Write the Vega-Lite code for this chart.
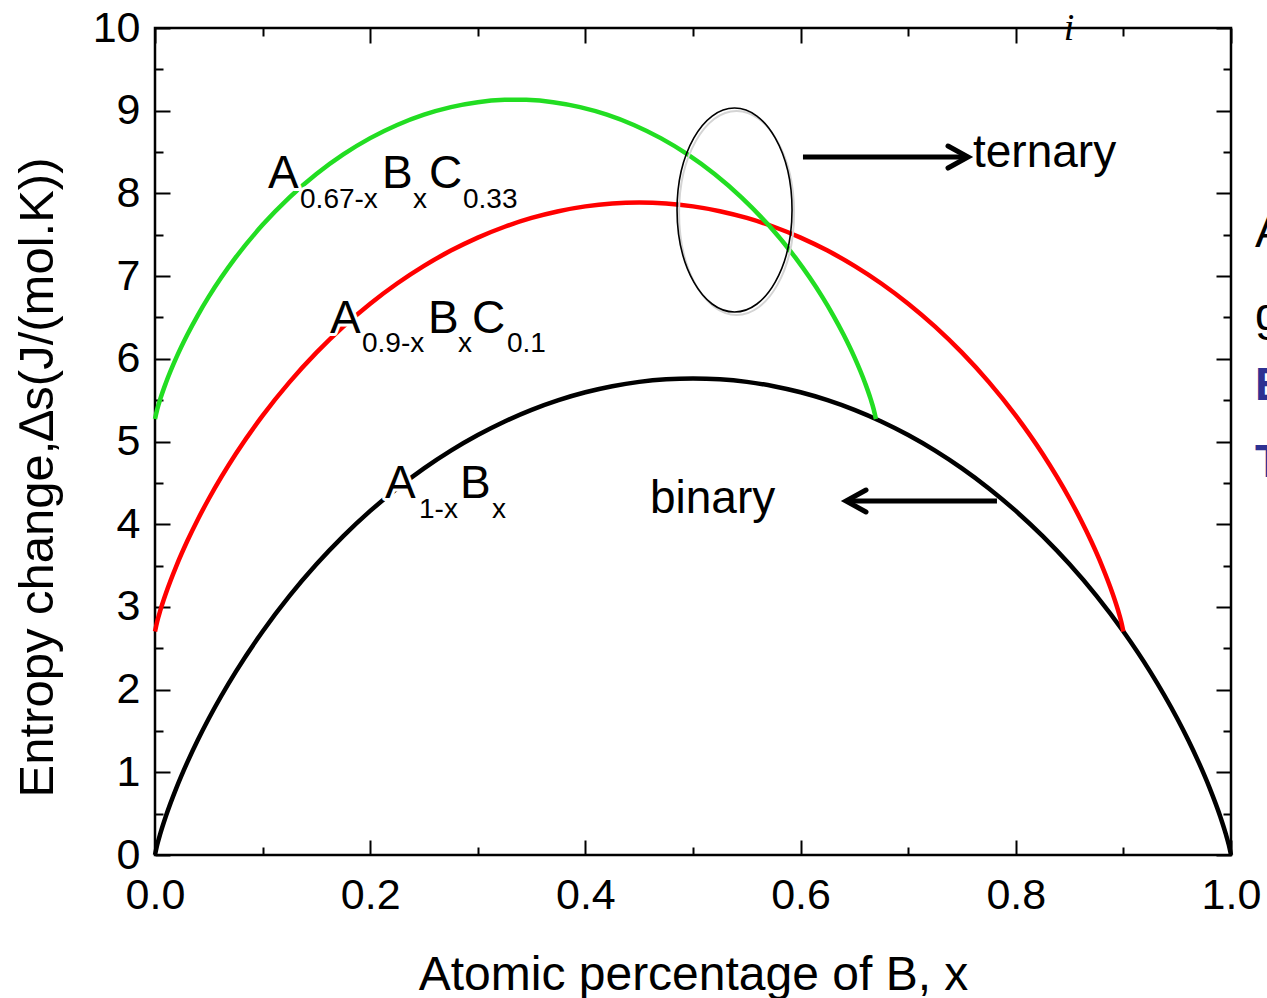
{
  "$schema": "https://vega.github.io/schema/vega-lite/v6.json",
  "width": 1076,
  "height": 827,
  "autosize": {"type": "none"},
  "padding": {"left": 155, "top": 28, "right": 36, "bottom": 143},
  "config": {
    "view": {"stroke": "#000", "strokeWidth": 2.5},
    "font": "Liberation Sans",
    "text": {"font": "Liberation Sans"}
  },
  "datasets": {
    "curves": [
      {"series": "A1-xBx", "x": 0, "s": 0},
      {"series": "A1-xBx", "x": 0.002, "s": 0.1199},
      {"series": "A1-xBx", "x": 0.005, "s": 0.2617},
      {"series": "A1-xBx", "x": 0.01, "s": 0.4656},
      {"series": "A1-xBx", "x": 0.02, "s": 0.8151},
      {"series": "A1-xBx", "x": 0.03, "s": 1.1202},
      {"series": "A1-xBx", "x": 0.04, "s": 1.3963},
      {"series": "A1-xBx", "x": 0.05, "s": 1.6505},
      {"series": "A1-xBx", "x": 0.075, "s": 2.2147},
      {"series": "A1-xBx", "x": 0.1, "s": 2.7027},
      {"series": "A1-xBx", "x": 0.125, "s": 3.1325},
      {"series": "A1-xBx", "x": 0.15, "s": 3.5144},
      {"series": "A1-xBx", "x": 0.175, "s": 3.8554},
      {"series": "A1-xBx", "x": 0.2, "s": 4.1604},
      {"series": "A1-xBx", "x": 0.225, "s": 4.4327},
      {"series": "A1-xBx", "x": 0.25, "s": 4.6753},
      {"series": "A1-xBx", "x": 0.275, "s": 4.89},
      {"series": "A1-xBx", "x": 0.3, "s": 5.0787},
      {"series": "A1-xBx", "x": 0.325, "s": 5.2427},
      {"series": "A1-xBx", "x": 0.35, "s": 5.3829},
      {"series": "A1-xBx", "x": 0.375, "s": 5.5002},
      {"series": "A1-xBx", "x": 0.4, "s": 5.5954},
      {"series": "A1-xBx", "x": 0.425, "s": 5.6689},
      {"series": "A1-xBx", "x": 0.45, "s": 5.7212},
      {"series": "A1-xBx", "x": 0.475, "s": 5.7524},
      {"series": "A1-xBx", "x": 0.5, "s": 5.7628},
      {"series": "A1-xBx", "x": 0.525, "s": 5.7524},
      {"series": "A1-xBx", "x": 0.55, "s": 5.7212},
      {"series": "A1-xBx", "x": 0.575, "s": 5.6689},
      {"series": "A1-xBx", "x": 0.6, "s": 5.5954},
      {"series": "A1-xBx", "x": 0.625, "s": 5.5002},
      {"series": "A1-xBx", "x": 0.65, "s": 5.3829},
      {"series": "A1-xBx", "x": 0.675, "s": 5.2427},
      {"series": "A1-xBx", "x": 0.7, "s": 5.0787},
      {"series": "A1-xBx", "x": 0.725, "s": 4.89},
      {"series": "A1-xBx", "x": 0.75, "s": 4.6753},
      {"series": "A1-xBx", "x": 0.775, "s": 4.4327},
      {"series": "A1-xBx", "x": 0.8, "s": 4.1604},
      {"series": "A1-xBx", "x": 0.825, "s": 3.8554},
      {"series": "A1-xBx", "x": 0.85, "s": 3.5144},
      {"series": "A1-xBx", "x": 0.875, "s": 3.1325},
      {"series": "A1-xBx", "x": 0.9, "s": 2.7027},
      {"series": "A1-xBx", "x": 0.925, "s": 2.2147},
      {"series": "A1-xBx", "x": 0.95, "s": 1.6505},
      {"series": "A1-xBx", "x": 0.96, "s": 1.3963},
      {"series": "A1-xBx", "x": 0.97, "s": 1.1202},
      {"series": "A1-xBx", "x": 0.98, "s": 0.8151},
      {"series": "A1-xBx", "x": 0.99, "s": 0.4656},
      {"series": "A1-xBx", "x": 0.995, "s": 0.2617},
      {"series": "A1-xBx", "x": 0.998, "s": 0.1199},
      {"series": "A1-xBx", "x": 1, "s": 0},
      {"series": "A0.9-xBxC0.1", "x": 0, "s": 2.7027},
      {"series": "A0.9-xBxC0.1", "x": 0.002, "s": 2.8209},
      {"series": "A0.9-xBxC0.1", "x": 0.005, "s": 2.9601},
      {"series": "A0.9-xBxC0.1", "x": 0.01, "s": 3.1595},
      {"series": "A0.9-xBxC0.1", "x": 0.02, "s": 3.5001},
      {"series": "A0.9-xBxC0.1", "x": 0.03, "s": 3.7963},
      {"series": "A0.9-xBxC0.1", "x": 0.04, "s": 4.0632},
      {"series": "A0.9-xBxC0.1", "x": 0.05, "s": 4.3082},
      {"series": "A0.9-xBxC0.1", "x": 0.075, "s": 4.849},
      {"series": "A0.9-xBxC0.1", "x": 0.1, "s": 5.3129},
      {"series": "A0.9-xBxC0.1", "x": 0.125, "s": 5.7178},
      {"series": "A0.9-xBxC0.1", "x": 0.15, "s": 6.0741},
      {"series": "A0.9-xBxC0.1", "x": 0.175, "s": 6.3887},
      {"series": "A0.9-xBxC0.1", "x": 0.2, "s": 6.6663},
      {"series": "A0.9-xBxC0.1", "x": 0.225, "s": 6.9105},
      {"series": "A0.9-xBxC0.1", "x": 0.25, "s": 7.1238},
      {"series": "A0.9-xBxC0.1", "x": 0.275, "s": 7.3083},
      {"series": "A0.9-xBxC0.1", "x": 0.3, "s": 7.4655},
      {"series": "A0.9-xBxC0.1", "x": 0.325, "s": 7.5968},
      {"series": "A0.9-xBxC0.1", "x": 0.35, "s": 7.703},
      {"series": "A0.9-xBxC0.1", "x": 0.375, "s": 7.7849},
      {"series": "A0.9-xBxC0.1", "x": 0.4, "s": 7.843},
      {"series": "A0.9-xBxC0.1", "x": 0.425, "s": 7.8777},
      {"series": "A0.9-xBxC0.1", "x": 0.45, "s": 7.8893},
      {"series": "A0.9-xBxC0.1", "x": 0.475, "s": 7.8777},
      {"series": "A0.9-xBxC0.1", "x": 0.5, "s": 7.843},
      {"series": "A0.9-xBxC0.1", "x": 0.525, "s": 7.7849},
      {"series": "A0.9-xBxC0.1", "x": 0.55, "s": 7.703},
      {"series": "A0.9-xBxC0.1", "x": 0.575, "s": 7.5968},
      {"series": "A0.9-xBxC0.1", "x": 0.6, "s": 7.4655},
      {"series": "A0.9-xBxC0.1", "x": 0.625, "s": 7.3083},
      {"series": "A0.9-xBxC0.1", "x": 0.65, "s": 7.1238},
      {"series": "A0.9-xBxC0.1", "x": 0.675, "s": 6.9105},
      {"series": "A0.9-xBxC0.1", "x": 0.7, "s": 6.6663},
      {"series": "A0.9-xBxC0.1", "x": 0.725, "s": 6.3887},
      {"series": "A0.9-xBxC0.1", "x": 0.75, "s": 6.0741},
      {"series": "A0.9-xBxC0.1", "x": 0.775, "s": 5.7178},
      {"series": "A0.9-xBxC0.1", "x": 0.8, "s": 5.3129},
      {"series": "A0.9-xBxC0.1", "x": 0.825, "s": 4.849},
      {"series": "A0.9-xBxC0.1", "x": 0.85, "s": 4.3082},
      {"series": "A0.9-xBxC0.1", "x": 0.86, "s": 4.0632},
      {"series": "A0.9-xBxC0.1", "x": 0.87, "s": 3.7963},
      {"series": "A0.9-xBxC0.1", "x": 0.88, "s": 3.5001},
      {"series": "A0.9-xBxC0.1", "x": 0.89, "s": 3.1595},
      {"series": "A0.9-xBxC0.1", "x": 0.895, "s": 2.9601},
      {"series": "A0.9-xBxC0.1", "x": 0.898, "s": 2.8209},
      {"series": "A0.9-xBxC0.1", "x": 0.9, "s": 2.7027},
      {"series": "A0.67-xBxC0.33", "x": 0, "s": 5.2726},
      {"series": "A0.67-xBxC0.33", "x": 0.002, "s": 5.3858},
      {"series": "A0.67-xBxC0.33", "x": 0.005, "s": 5.5176},
      {"series": "A0.67-xBxC0.33", "x": 0.01, "s": 5.7047},
      {"series": "A0.67-xBxC0.33", "x": 0.02, "s": 6.0202},
      {"series": "A0.67-xBxC0.33", "x": 0.03, "s": 6.291},
      {"series": "A0.67-xBxC0.33", "x": 0.04, "s": 6.5323},
      {"series": "A0.67-xBxC0.33", "x": 0.05, "s": 6.7512},
      {"series": "A0.67-xBxC0.33", "x": 0.075, "s": 7.2253},
      {"series": "A0.67-xBxC0.33", "x": 0.1, "s": 7.62},
      {"series": "A0.67-xBxC0.33", "x": 0.125, "s": 7.9531},
      {"series": "A0.67-xBxC0.33", "x": 0.15, "s": 8.2348},
      {"series": "A0.67-xBxC0.33", "x": 0.175, "s": 8.4716},
      {"series": "A0.67-xBxC0.33", "x": 0.2, "s": 8.6682},
      {"series": "A0.67-xBxC0.33", "x": 0.225, "s": 8.8277},
      {"series": "A0.67-xBxC0.33", "x": 0.25, "s": 8.9524},
      {"series": "A0.67-xBxC0.33", "x": 0.275, "s": 9.0438},
      {"series": "A0.67-xBxC0.33", "x": 0.3, "s": 9.1032},
      {"series": "A0.67-xBxC0.33", "x": 0.325, "s": 9.1312},
      {"series": "A0.67-xBxC0.33", "x": 0.335, "s": 9.1337},
      {"series": "A0.67-xBxC0.33", "x": 0.345, "s": 9.1312},
      {"series": "A0.67-xBxC0.33", "x": 0.37, "s": 9.1032},
      {"series": "A0.67-xBxC0.33", "x": 0.395, "s": 9.0438},
      {"series": "A0.67-xBxC0.33", "x": 0.42, "s": 8.9524},
      {"series": "A0.67-xBxC0.33", "x": 0.445, "s": 8.8277},
      {"series": "A0.67-xBxC0.33", "x": 0.47, "s": 8.6682},
      {"series": "A0.67-xBxC0.33", "x": 0.495, "s": 8.4716},
      {"series": "A0.67-xBxC0.33", "x": 0.52, "s": 8.2348},
      {"series": "A0.67-xBxC0.33", "x": 0.545, "s": 7.9531},
      {"series": "A0.67-xBxC0.33", "x": 0.57, "s": 7.62},
      {"series": "A0.67-xBxC0.33", "x": 0.595, "s": 7.2253},
      {"series": "A0.67-xBxC0.33", "x": 0.62, "s": 6.7512},
      {"series": "A0.67-xBxC0.33", "x": 0.63, "s": 6.5323},
      {"series": "A0.67-xBxC0.33", "x": 0.64, "s": 6.291},
      {"series": "A0.67-xBxC0.33", "x": 0.65, "s": 6.0202},
      {"series": "A0.67-xBxC0.33", "x": 0.66, "s": 5.7047},
      {"series": "A0.67-xBxC0.33", "x": 0.665, "s": 5.5176},
      {"series": "A0.67-xBxC0.33", "x": 0.668, "s": 5.3858},
      {"series": "A0.67-xBxC0.33", "x": 0.67, "s": 5.2726}
    ],
    "labelsMain": [
      {"label": "A", "x": 0.105, "s": 8.065},
      {"label": "B", "x": 0.211, "s": 8.065},
      {"label": "C", "x": 0.2546, "s": 8.065},
      {"label": "A", "x": 0.1626, "s": 6.312},
      {"label": "B", "x": 0.2537, "s": 6.312},
      {"label": "C", "x": 0.2946, "s": 6.312},
      {"label": "A", "x": 0.2138, "s": 4.317},
      {"label": "B", "x": 0.2835, "s": 4.317}
    ],
    "labelsSub": [
      {"label": "0.67-x", "x": 0.1348, "s": 7.823},
      {"label": "x", "x": 0.2398, "s": 7.823},
      {"label": "0.33", "x": 0.2862, "s": 7.823},
      {"label": "0.9-x", "x": 0.1924, "s": 6.082},
      {"label": "x", "x": 0.2816, "s": 6.082},
      {"label": "0.1", "x": 0.3271, "s": 6.082},
      {"label": "1-x", "x": 0.2454, "s": 4.075},
      {"label": "x", "x": 0.3132, "s": 4.075}
    ],
    "notes": [
      {"label": "ternary", "x": 0.7602, "s": 8.319},
      {"label": "binary", "x": 0.46, "s": 4.135},
      {"label": "A", "x": 1.0223, "s": 7.352},
      {"label": "g", "x": 1.0223, "s": 6.348}
    ],
    "notesBlue": [
      {"label": "E", "x": 1.0223, "s": 5.502},
      {"label": "T", "x": 1.0223, "s": 4.571}
    ]
  },
  "layer": [
    {
      "data": {"name": "curves"},
      "mark": {"type": "line", "strokeWidth": 4.5, "interpolate": "monotone", "clip": false},
      "encoding": {
        "x": {
          "field": "x", "type": "quantitative",
          "scale": {"domain": [0, 1], "nice": false, "zero": false},
          "axis": {
            "orient": "bottom", "values": [0, 0.2, 0.4, 0.6, 0.8, 1], "format": ".1f",
            "tickSize": -15, "tickWidth": 2, "tickColor": "#000", "domain": false, "grid": false,
            "labelFontSize": 43, "labelColor": "#000", "labelPadding": 34, "labelFont": "Liberation Sans",
            "labelFlush": false, "labelOverlap": false,
            "title": "Atomic percentage of B, x", "titleFontSize": 48, "titleFontWeight": "normal",
            "titleColor": "#000", "titleFont": "Liberation Sans", "titlePadding": 34
          }
        },
        "y": {
          "field": "s", "type": "quantitative",
          "scale": {"domain": [0, 10], "nice": false, "zero": false},
          "axis": {
            "orient": "left", "values": [0, 1, 2, 3, 4, 5, 6, 7, 8, 9, 10], "format": "d",
            "tickSize": -15, "tickWidth": 2, "tickColor": "#000", "domain": false, "grid": false,
            "labelFontSize": 43, "labelColor": "#000", "labelPadding": 30, "labelFont": "Liberation Sans",
            "labelFlush": false, "labelOverlap": false,
            "title": "Entropy change,∆s(J/(mol.K))", "titleFontSize": 49, "titleFontWeight": "normal",
            "titleColor": "#000", "titleFont": "Liberation Sans", "titlePadding": 30, "titleY": 449
          }
        },
        "color": {
          "field": "series", "type": "nominal",
          "scale": {"domain": ["A1-xBx", "A0.9-xBxC0.1", "A0.67-xBxC0.33"], "range": ["#000000", "#ff0000", "#22dd22"]},
          "legend": null
        },
        "order": {"field": "x", "type": "quantitative"}
      }
    },
    {
      "data": {"name": "labelsMain"},
      "mark": {"type": "text", "fontSize": 46, "align": "left", "baseline": "alphabetic", "fill": "#fff", "stroke": "#fff", "strokeWidth": 6, "strokeJoin": "round"},
      "encoding": {
        "x": {
          "field": "x", "type": "quantitative", "scale": {"domain": [0, 1], "nice": false, "zero": false},
          "axis": {"orient": "bottom", "values": [0.1, 0.3, 0.5, 0.7, 0.9], "tickSize": -8, "tickWidth": 2, "tickColor": "#000", "labels": false, "domain": false, "grid": false, "title": null}
        },
        "y": {
          "field": "s", "type": "quantitative", "scale": {"domain": [0, 10], "nice": false, "zero": false},
          "axis": {"orient": "left", "values": [0.5, 1.5, 2.5, 3.5, 4.5, 5.5, 6.5, 7.5, 8.5, 9.5], "tickSize": -8, "tickWidth": 2, "tickColor": "#000", "labels": false, "domain": false, "grid": false, "title": null}
        },
        "text": {"field": "label"}
      }
    },
    {
      "data": {"name": "labelsSub"},
      "mark": {"type": "text", "fontSize": 28, "align": "left", "baseline": "alphabetic", "fill": "#fff", "stroke": "#fff", "strokeWidth": 6, "strokeJoin": "round"},
      "encoding": {
        "x": {"field": "x", "type": "quantitative", "scale": {"domain": [0, 1], "nice": false, "zero": false}, "axis": null},
        "y": {"field": "s", "type": "quantitative", "scale": {"domain": [0, 10], "nice": false, "zero": false}, "axis": null},
        "text": {"field": "label"}
      }
    },
    {
      "data": {"name": "labelsMain"},
      "mark": {"type": "text", "fontSize": 46, "align": "left", "baseline": "alphabetic", "color": "#000"},
      "encoding": {
        "x": {
          "field": "x", "type": "quantitative", "scale": {"domain": [0, 1], "nice": false, "zero": false},
          "axis": {"orient": "top", "values": [0, 0.2, 0.4, 0.6, 0.8, 1], "tickSize": -15, "tickWidth": 2, "tickColor": "#000", "labels": false, "domain": false, "grid": false, "title": null}
        },
        "y": {
          "field": "s", "type": "quantitative", "scale": {"domain": [0, 10], "nice": false, "zero": false},
          "axis": {"orient": "right", "values": [0, 1, 2, 3, 4, 5, 6, 7, 8, 9, 10], "tickSize": -15, "tickWidth": 2, "tickColor": "#000", "labels": false, "domain": false, "grid": false, "title": null}
        },
        "text": {"field": "label"}
      }
    },
    {
      "data": {"name": "labelsSub"},
      "mark": {"type": "text", "fontSize": 28, "align": "left", "baseline": "alphabetic", "color": "#000"},
      "encoding": {
        "x": {
          "field": "x", "type": "quantitative", "scale": {"domain": [0, 1], "nice": false, "zero": false},
          "axis": {"orient": "top", "values": [0.1, 0.3, 0.5, 0.7, 0.9], "tickSize": -8, "tickWidth": 2, "tickColor": "#000", "labels": false, "domain": false, "grid": false, "title": null}
        },
        "y": {
          "field": "s", "type": "quantitative", "scale": {"domain": [0, 10], "nice": false, "zero": false},
          "axis": {"orient": "right", "values": [0.5, 1.5, 2.5, 3.5, 4.5, 5.5, 6.5, 7.5, 8.5, 9.5], "tickSize": -8, "tickWidth": 2, "tickColor": "#000", "labels": false, "domain": false, "grid": false, "title": null}
        },
        "text": {"field": "label"}
      }
    },
    {
      "data": {"name": "notes"},
      "mark": {"type": "text", "fontSize": 46, "align": "left", "baseline": "alphabetic", "color": "#000"},
      "encoding": {
        "x": {"field": "x", "type": "quantitative", "scale": {"domain": [0, 1], "nice": false, "zero": false}, "axis": null},
        "y": {"field": "s", "type": "quantitative", "scale": {"domain": [0, 10], "nice": false, "zero": false}, "axis": null},
        "text": {"field": "label"}
      }
    },
    {
      "data": {"name": "notesBlue"},
      "mark": {"type": "text", "fontSize": 46, "fontWeight": "bold", "align": "left", "baseline": "alphabetic", "color": "#2e3192"},
      "encoding": {
        "x": {"field": "x", "type": "quantitative", "scale": {"domain": [0, 1], "nice": false, "zero": false}, "axis": null},
        "y": {"field": "s", "type": "quantitative", "scale": {"domain": [0, 10], "nice": false, "zero": false}, "axis": null},
        "text": {"field": "label"}
      }
    },
    {
      "data": {"values": [{"label": "i", "x": 0.8494, "s": 9.855}]},
      "mark": {"type": "text", "fontSize": 38, "font": "Liberation Serif", "fontStyle": "italic", "align": "center", "baseline": "alphabetic", "color": "#000"},
      "encoding": {
        "x": {"field": "x", "type": "quantitative", "scale": {"domain": [0, 1], "nice": false, "zero": false}, "axis": null},
        "y": {"field": "s", "type": "quantitative", "scale": {"domain": [0, 10], "nice": false, "zero": false}, "axis": null},
        "text": {"field": "label"}
      }
    },
    {
      "data": {"values": [{"x": 0.5405, "s": 7.763}]},
      "mark": {"type": "point", "filled": false, "stroke": "#d4d4d4", "strokeWidth": 2, "opacity": 1, "size": 13225,
        "shape": "M0,-1.774C0.5523,-1.774,1,-0.98,1,0C1,0.98,0.5523,1.774,0,1.774C-0.5523,1.774,-1,0.98,-1,0C-1,-0.98,-0.5523,-1.774,0,-1.774Z"},
      "encoding": {
        "x": {"field": "x", "type": "quantitative", "scale": {"domain": [0, 1], "nice": false, "zero": false}, "axis": null},
        "y": {"field": "s", "type": "quantitative", "scale": {"domain": [0, 10], "nice": false, "zero": false}, "axis": null}
      }
    },
    {
      "data": {"values": [{"x": 0.5386, "s": 7.799}]},
      "mark": {"type": "point", "filled": false, "stroke": "#000", "strokeWidth": 1.6, "opacity": 1, "size": 13225,
        "shape": "M0,-1.774C0.5523,-1.774,1,-0.98,1,0C1,0.98,0.5523,1.774,0,1.774C-0.5523,1.774,-1,0.98,-1,0C-1,-0.98,-0.5523,-1.774,0,-1.774Z"},
      "encoding": {
        "x": {"field": "x", "type": "quantitative", "scale": {"domain": [0, 1], "nice": false, "zero": false}, "axis": null},
        "y": {"field": "s", "type": "quantitative", "scale": {"domain": [0, 10], "nice": false, "zero": false}, "axis": null}
      }
    },
    {
      "data": {"values": [{"x": 0.6022, "x2": 0.7528, "s": 8.44}, {"x": 0.645, "x2": 0.7825, "s": 4.2805}]},
      "mark": {"type": "rule", "strokeWidth": 5, "color": "#000"},
      "encoding": {
        "x": {"field": "x", "type": "quantitative", "scale": {"domain": [0, 1], "nice": false, "zero": false}, "axis": null},
        "x2": {"field": "x2"},
        "y": {"field": "s", "type": "quantitative", "scale": {"domain": [0, 10], "nice": false, "zero": false}, "axis": null}
      }
    },
    {
      "data": {"values": [{"x": 0.7556, "s": 8.44}]},
      "mark": {"type": "point", "filled": false, "stroke": "#000", "strokeWidth": 5, "strokeCap": "round", "strokeJoin": "miter", "opacity": 1, "size": 1600, "shape": "M-1,-0.55L0,0L-1,0.55"},
      "encoding": {
        "x": {"field": "x", "type": "quantitative", "scale": {"domain": [0, 1], "nice": false, "zero": false}, "axis": null},
        "y": {"field": "s", "type": "quantitative", "scale": {"domain": [0, 10], "nice": false, "zero": false}, "axis": null}
      }
    },
    {
      "data": {"values": [{"x": 0.6422, "s": 4.2805}]},
      "mark": {"type": "point", "filled": false, "stroke": "#000", "strokeWidth": 5, "strokeCap": "round", "strokeJoin": "miter", "opacity": 1, "size": 1600, "shape": "M1,-0.55L0,0L1,0.55"},
      "encoding": {
        "x": {"field": "x", "type": "quantitative", "scale": {"domain": [0, 1], "nice": false, "zero": false}, "axis": null},
        "y": {"field": "s", "type": "quantitative", "scale": {"domain": [0, 10], "nice": false, "zero": false}, "axis": null}
      }
    }
  ],
  "resolve": {"axis": {"x": "independent", "y": "independent"}, "scale": {"x": "shared", "y": "shared"}}
}
